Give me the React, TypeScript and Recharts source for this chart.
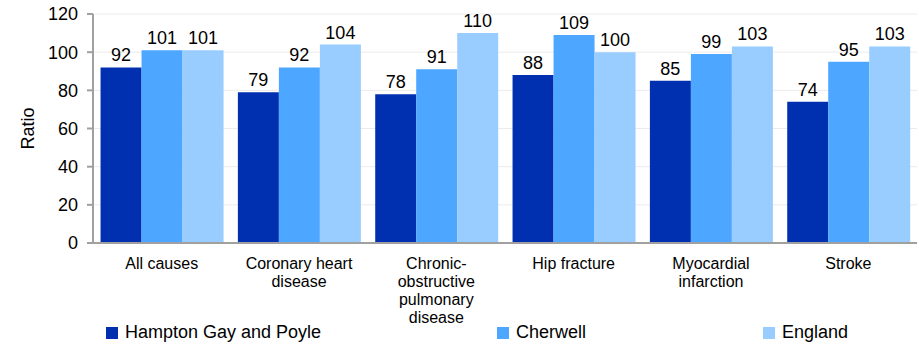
import React from "react";
import { Bar, BarChart, CartesianGrid, LabelList, Legend, XAxis, YAxis } from "recharts";

const categories = [
  "All causes",
  "Coronary heart disease",
  "Chronic-obstructive pulmonary disease",
  "Hip fracture",
  "Myocardial infarction",
  "Stroke"
];
const hamptonGay = [92, 79, 78, 88, 85, 74];
const cherwell = [101, 92, 91, 109, 99, 95];
const england = [101, 104, 110, 100, 103, 103];
const yTicks = [0, 20, 40, 60, 80, 100, 120];

const data = categories.map((name, i) => ({
  name,
  hampton: hamptonGay[i],
  cherwell: cherwell[i],
  england: england[i]
}));

const font = "'Liberation Sans', Arial, sans-serif";

const series = [
  { key: "hampton", label: "Hampton Gay and Poyle", color: "#0030B0", left: 106 },
  { key: "cherwell", label: "Cherwell", color: "#4DA6FF", left: 497 },
  { key: "england", label: "England", color: "#99CCFF", left: 763 }
];

// break long labels on spaces and after hyphens
function wrap(text: string, max = 14) {
  const words = text.replace(/-/g, "- ").split(" ").filter(Boolean);
  const lines: string[] = [];
  let cur = "";
  for (const w of words) {
    const joiner = cur.endsWith("-") || cur === "" ? "" : " ";
    const next = cur + joiner + w;
    if (next.length > max && cur) {
      lines.push(cur);
      cur = w;
    } else {
      cur = next;
    }
  }
  if (cur) lines.push(cur);
  return lines;
}

function CategoryTick(props: any) {
  const { x, y, payload } = props;
  const lines = wrap(payload.value);
  return (
    <text x={x} y={y + 17.5} textAnchor="middle" fontSize={16} fill="#000" fontFamily={font}>
      {lines.map((l, i) => (
        <tspan key={i} x={x} dy={i === 0 ? 0 : 18}>
          {l}
        </tspan>
      ))}
    </text>
  );
}

export default function App() {
  return (
    <div style={{ position: "absolute", left: 0, top: 0, background: "#fff" }}>
      <BarChart
        width={919}
        height={344}
        data={data}
        margin={{ top: 14, right: 2, bottom: 0, left: 0 }}
        barCategoryGap="5.5%"
        barGap={0}
      >
        <CartesianGrid vertical={false} stroke="#ebebeb" />
        <XAxis
          dataKey="name"
          tick={<CategoryTick />}
          interval={0}
          height={71}
          axisLine={{ stroke: "#a0a0a0", strokeWidth: 2 }}
          tickLine={false}
        />
        <YAxis
          domain={[0, 120]}
          ticks={yTicks}
          width={93}
          tickSize={6}
          tickMargin={9}
          axisLine={{ stroke: "#a0a0a0", strokeWidth: 2 }}
          tickLine={{ stroke: "#a0a0a0", strokeWidth: 2 }}
          tick={{ fontSize: 18, fill: "#000", fontFamily: font }}
          label={{
            value: "Ratio",
            angle: -90,
            position: "insideLeft",
            offset: 28,
            style: { fontSize: 18, fill: "#000", fontFamily: font, textAnchor: "middle" }
          }}
        />
        <Legend
          verticalAlign="bottom"
          height={30}
          content={() => (
            <div style={{ position: "relative", height: 30, fontFamily: font, fontSize: 18 }}>
              {series.map((item) => (
                <div
                  key={item.key}
                  style={{ position: "absolute", left: item.left, top: 8, display: "flex", alignItems: "center" }}
                >
                  <span style={{ width: 12, height: 12, background: item.color, display: "inline-block", marginRight: 7 }} />
                  <span>{item.label}</span>
                </div>
              ))}
            </div>
          )}
        />
        {series.map((s) => (
          <Bar key={s.key} dataKey={s.key} name={s.label} fill={s.color} isAnimationActive={false}>
            <LabelList dataKey={s.key} position="top" offset={6} style={{ fontSize: 18, fill: "#000", fontFamily: font }} />
          </Bar>
        ))}
      </BarChart>
    </div>
  );
}
